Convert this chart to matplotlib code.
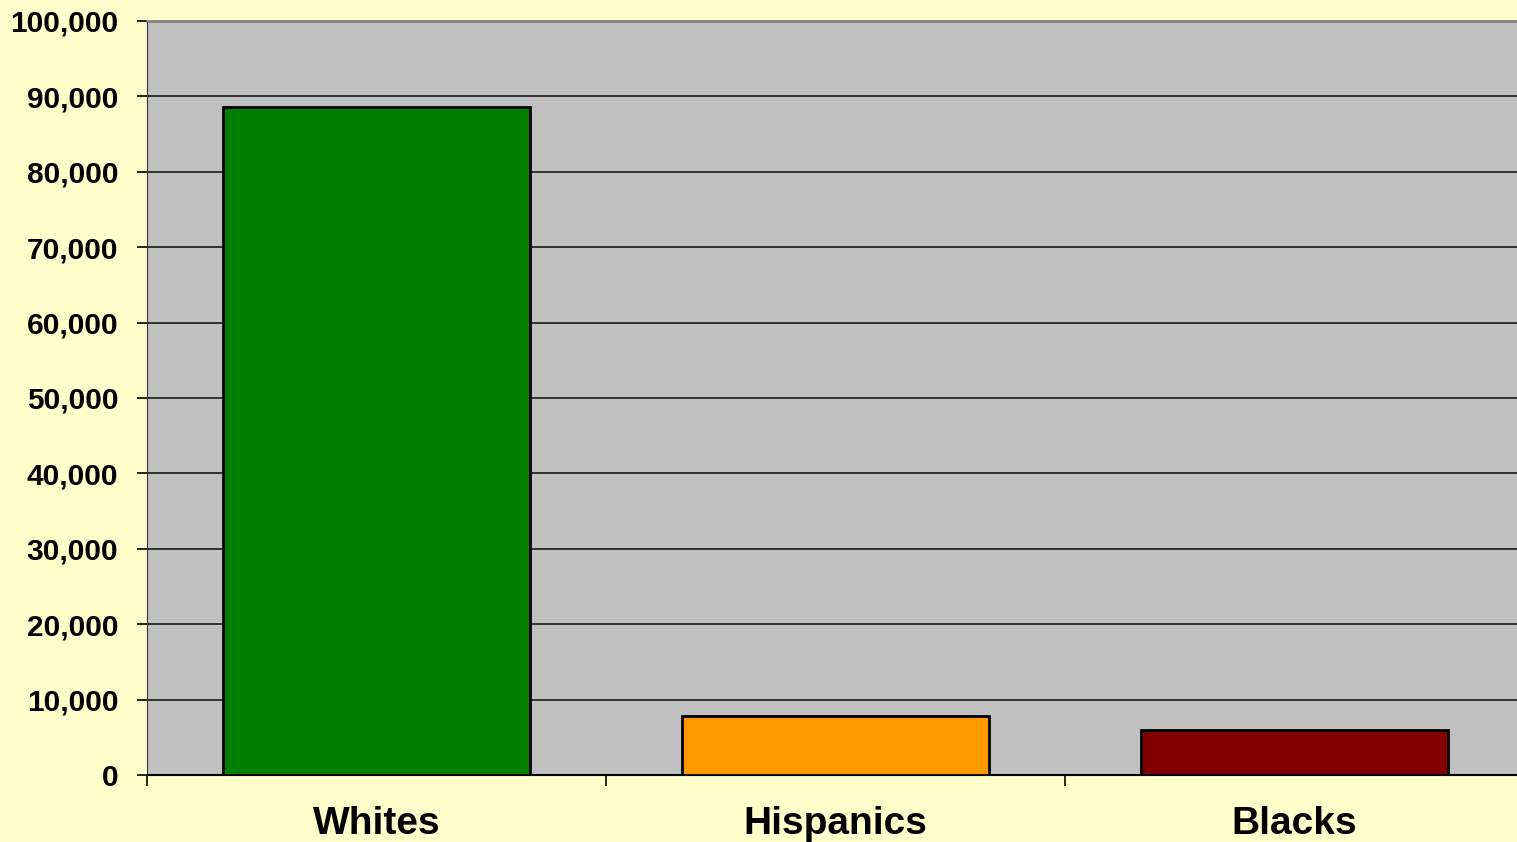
import matplotlib
matplotlib.use("Agg")
import matplotlib.pyplot as plt
from matplotlib.ticker import FuncFormatter

# data
groups = ["Whites", "Hispanics", "Blacks"]
counts = [88600, 7800, 6000]
bar_colors = ["#007F00", "#FF9900", "#800000"]

plt.rcParams['font.family'] = ['Liberation Sans', 'DejaVu Sans']

fig = plt.figure(figsize=(15.17, 8.42), dpi=100, facecolor="#FFFFCC")
# the plot area runs a little past the right edge of the picture
ax = fig.add_axes([147/1517, 1 - 775/842, 1377/1517, (775 - 21)/842])
ax.set_facecolor("#C0C0C0")

x = range(len(groups))
ax.bar(x, counts, width=0.67, color=bar_colors, edgecolor="black", linewidth=2, zorder=3)

ax.set_ylim(0, 100000)
ax.set_xlim(-0.5, 2.5)
ax.set_yticks(range(0, 100001, 10000))
ax.yaxis.set_major_formatter(FuncFormatter(lambda v, p: f"{int(v):,}"))
ax.grid(axis="y", color="#1a1a1a", linewidth=1.2, zorder=1)

ax.set_xticks(list(x))
ax.set_xticklabels(groups, fontsize=28, fontweight="bold")
ax.set_xticks([-0.5, 0.5, 1.5], minor=True)
ax.tick_params(axis="x", which="major", length=0, pad=22)
ax.tick_params(axis="x", which="minor", length=8, width=1.2, color="black")
ax.tick_params(axis="y", length=7.2, width=1.2, labelsize=21.5, pad=13.5)
for lab in ax.get_yticklabels():
    lab.set_fontweight("bold")

ax.spines["right"].set_visible(False)
ax.spines["top"].set_color("#808080")
ax.spines["top"].set_linewidth(2)
ax.spines["left"].set_color("#333333")
ax.spines["bottom"].set_color("black")
ax.spines["bottom"].set_linewidth(1.5)

fig.savefig("out.png", dpi=100, facecolor=fig.get_facecolor())
